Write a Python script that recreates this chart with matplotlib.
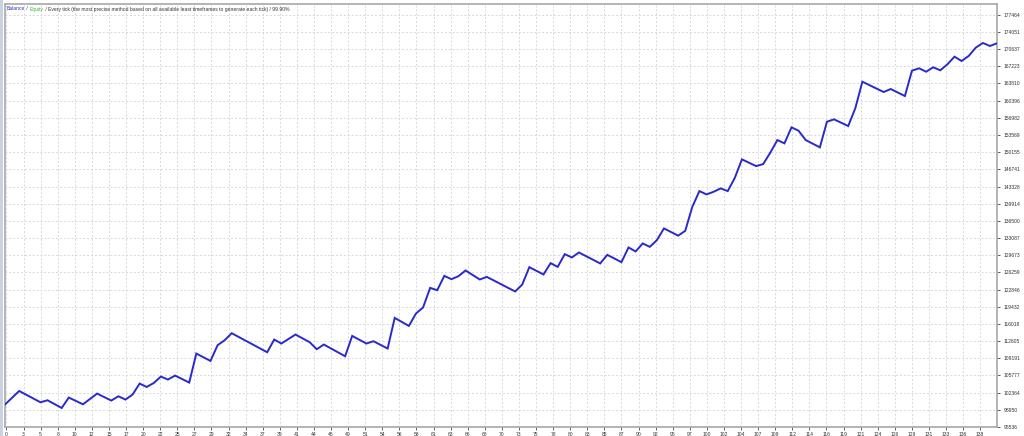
import matplotlib
matplotlib.use("Agg")
import matplotlib.pyplot as plt
import numpy as np

# trade numbers at the vertices of the balance curve and balance values there
trade_no = [0, 2, 5, 6, 8, 9, 11, 13, 15, 16, 17, 18, 19, 20, 21, 22, 23, 24, 26, 27,
            29, 30, 31, 32, 37, 38, 39, 41, 43, 44, 45, 48, 49, 51, 52, 54, 55, 57, 58,
            59, 60, 61, 62, 63, 64, 65, 67, 68, 72, 73, 74, 76, 77, 78, 79, 80, 81, 84,
            85, 87, 88, 89, 90, 91, 92, 93, 95, 96, 97, 98, 99, 100, 101, 102, 103, 104,
            106, 107, 108, 109, 110, 111, 112, 113, 115, 116, 117, 119, 120, 121, 124,
            125, 127, 128, 129, 130, 131, 132, 133, 134, 135, 136, 137, 138, 139, 140]
balance = [100000, 102696, 100449, 100847, 99315, 101384, 100051, 102179, 100787, 101642,
           100986, 101980, 104168, 103492, 104288, 105561, 104964, 105759, 104367, 110135,
           108663, 111786, 112781, 114173, 110394, 112920, 112124, 113914, 112383, 110991,
           111925, 109598, 113636, 112124, 112582, 111130, 117216, 115625, 118091, 119285,
           123183, 122726, 125570, 124913, 125510, 126644, 124854, 125371, 122467, 123859,
           127300, 125848, 128096, 127360, 129886, 129230, 130224, 128036, 129747, 128295,
           131219, 130423, 132014, 131338, 132671, 134998, 133566, 134520, 139294, 142417,
           141760, 142278, 142954, 142417, 145062, 148722, 147389, 147787, 150035, 152561,
           151904, 155087, 154410, 152561, 151109, 156200, 156678, 155345, 158866, 164157,
           162108, 162705, 161312, 166344, 166822, 166145, 167021, 166424, 167617, 169129,
           168274, 169268, 170919, 171854, 171257, 171794]

x_tick_labels = ["0", "3", "5", "8", "10", "12", "15", "17", "20", "22", "25", "27", "29",
                 "32", "34", "37", "39", "41", "44", "46", "49", "51", "54", "56", "58",
                 "61", "63", "66", "68", "70", "73", "75", "78", "80", "83", "85", "87",
                 "90", "92", "95", "97", "100", "102", "104", "107", "109", "112", "114",
                 "116", "119", "121", "124", "126", "129", "131", "133", "136", "138"]
y_tick_labels = ["95536", "98950", "102364", "105777", "109191", "112605", "116018",
                 "119432", "122846", "126259", "129673", "133087", "136500", "139914",
                 "143328", "146741", "150155", "153569", "156982", "160396", "163810",
                 "167223", "170637", "174051", "177464"]

plt.rcParams['font.family'] = ['Liberation Sans', 'DejaVu Sans']

fig = plt.figure(figsize=(10.24, 4.36), dpi=100)
fig.patch.set_facecolor('white')
W, H = 1024, 436
ax = fig.add_axes([5 / W, 1 - 427 / H, (997 - 5) / W, (427 - 4) / H])

ax.plot(trade_no, balance, color='#2a2acc', lw=1.4, solid_joinstyle='miter', zorder=3)

ax.set_xlim(0, 140)
ax.set_ylim(95536, 179600)

xt = np.arange(len(x_tick_labels)) * 2.411 + 0.2
ax.set_xticks(xt)
ax.set_xticklabels(x_tick_labels)
yt = [float(v) for v in y_tick_labels]
ax.set_yticks(yt)
ax.set_yticklabels(y_tick_labels)

ax.yaxis.tick_right()
ax.tick_params(axis='both', labelsize=3.6, colors='#444444', length=2, width=0.6,
               direction='out', pad=1.5)
ax.tick_params(axis='y', pad=3)
for lab in ax.get_xticklabels() + ax.get_yticklabels():
    lab.set_color('#333333')

ax.grid(True, color='#d8d8d8', linestyle=(0, (2, 2)), linewidth=0.7, zorder=0)
for s in ax.spines.values():
    s.set_color('#a8a8a8')
    s.set_linewidth(1.2)

# left window edge strip
fig.patches.append(matplotlib.patches.Rectangle((0, 0), 3 / W, 1, transform=fig.transFigure,
                                                facecolor='#c9d3e0', edgecolor='none'))

# header text
fs = 3.65
y_txt = 1 - 9 / H
t1 = fig.text(7 / W, y_txt, "Balance", color='#3333bb', fontsize=fs, va='center')
fig.canvas.draw()
r = fig.canvas.get_renderer()
bb = t1.get_window_extent(r)
t2 = fig.text(bb.x1 / W, y_txt, " / ", color='#333333', fontsize=fs, va='center')
bb = t2.get_window_extent(r)
t3 = fig.text(bb.x1 / W, y_txt, "Equity", color='#33bb33', fontsize=fs, va='center')
bb = t3.get_window_extent(r)
fig.text(bb.x1 / W, y_txt,
         " / Every tick (the most precise method based on all available least timeframes to generate each tick) / 99.90%",
         color='#333333', fontsize=fs, va='center')

fig.savefig("out.png", dpi=100, facecolor='white')
